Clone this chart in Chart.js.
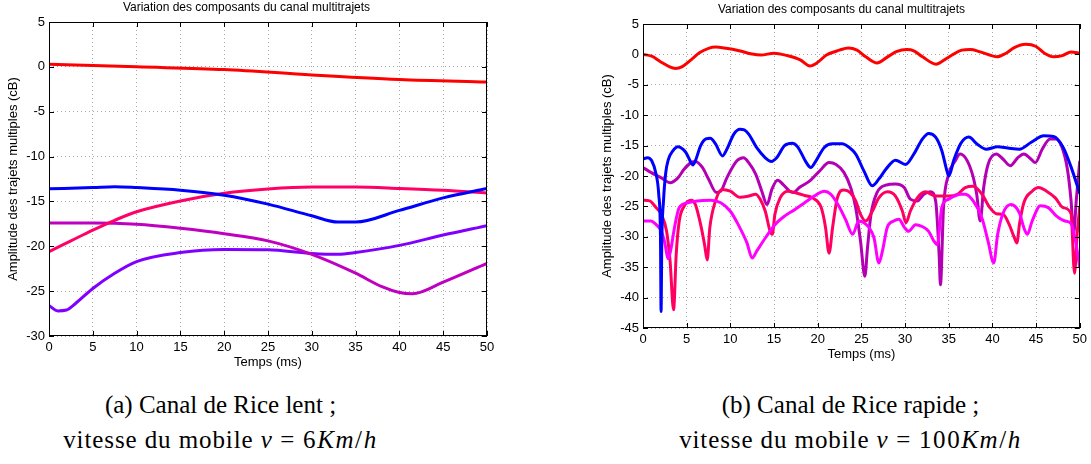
<!DOCTYPE html>
<html>
<head>
<meta charset="utf-8">
<script src="https://cdn.jsdelivr.net/npm/chart.js@4.4.1/dist/chart.umd.min.js"></script>
<style>
  body { margin: 0; background: #fff; width: 1091px; height: 464px; position: relative; overflow: hidden; }
  canvas { position: absolute; }
  #chartA { left: 0; top: 0; }
  #chartB { left: 545px; top: 2px; }
  .caption { position: absolute; width: 545px; text-align: center; font-family: "Liberation Serif", serif; font-size: 25px; line-height: 35px; color: #000; white-space: nowrap; }
  .caption .l2 { letter-spacing: 0.9px; }
  .caption .math { letter-spacing: 1.6px; }
  .caption .eq { margin: 0 7px; }
</style>
</head>
<body>
<canvas id="chartA" width="545" height="370"></canvas>
<canvas id="chartB" width="546" height="360"></canvas>
<div class="caption" style="left:-52px; top:387px;">(a) Canal de Rice lent ;<br><span class="l2">vitesse du mobile <span class="math"><i>v</i><span class="eq">=</span>6<i>Km</i>/<i>h</i></span></span></div>
<div class="caption" style="left:578px; top:387px;">(b) Canal de Rice rapide ;<br><span class="l2">vitesse du mobile <span class="math"><i>v</i><span class="eq">=</span>100<i>Km</i>/<i>h</i></span></span></div>
<script>
const chartTitle = 'Variation des composants du canal multitrajets';
const xTitle = 'Temps (ms)';
const yTitle = 'Amplitude des trajets multiples (cB)';

// (a) slow channel, 6 km/h : [time ms, amplitude dB]
const slowRed = [[0, 0.3], [10, 0.0], [20, -0.3], [30, -0.9], [40, -1.4], [50, -1.7]];
const slowBlue = [[0, -13.6], [5, -13.45], [7.5, -13.35], [10, -13.45], [15, -13.75], [20, -14.3], [25, -15.3], [30, -16.6], [33, -17.3], [35, -17.3], [40, -16.0], [45, -14.6], [50, -13.55]];
const slowPink = [[0, -20.6], [2.5, -19.4], [5, -18.2], [7.5, -17.1], [10, -16.15], [15, -14.95], [20, -14.1], [25, -13.62], [30, -13.4], [35, -13.4], [40, -13.55], [45, -13.75], [50, -14.05]];
const slowMagenta = [[0, -17.4], [5, -17.4], [10, -17.55], [15, -18.0], [20, -18.6], [25, -19.4], [30, -20.9], [35, -23.0], [38, -24.5], [40, -25.15], [41.5, -25.3], [45, -24.0], [50, -21.9]];
const slowViolet = [[0, -26.6], [1, -27.2], [2, -27.1], [3, -26.4], [5, -24.7], [7.5, -23.0], [10, -21.7], [15, -20.7], [20, -20.35], [25, -20.4], [30, -20.8], [33, -20.9], [35, -20.7], [40, -19.9], [45, -18.75], [50, -17.7]];

// (b) fast channel, 100 km/h
const fastRed = [[0, 0], [1, -0.3], [2, -1.2], [3, -2.0], [3.7, -2.3], [4.5, -2.0], [5.5, -0.9], [6.5, 0.3], [7.5, 1.0], [8.3, 1.2], [9.5, 1.0], [11, 0.6], [12.5, 0.05], [13.5, -0.1], [15, 0.2], [16.5, -0.2], [18, -0.9], [19.1, -1.9], [20, -1.3], [21, -0.1], [22.5, 0.7], [23.5, 1.05], [24.5, 0.7], [25.5, -0.4], [26.8, -1.4], [28, -0.4], [29, 0.45], [30.2, 0.8], [31, 0.6], [32, -0.4], [33.55, -1.6], [34.5, -0.9], [35.5, 0.0], [36.5, 0.7], [37.5, 0.8], [38.5, 0.45], [40, -0.25], [40.5, -0.4], [41.5, 0.15], [42.5, 1.1], [43.8, 1.65], [45, 1.3], [46, 0.15], [47, -0.4], [48, -0.2], [49, 0.4], [50, 0.2]];
const fastBlue = [[0, -17.2], [0.5, -17.0], [1, -17.5], [1.5, -19.7], [1.8, -23], [2.0, -30], [2.07, -42.3], [2.15, -31], [2.35, -24], [2.6, -19.5], [2.9, -17.3], [3.4, -15.9], [4.0, -15.2], [4.3, -15.3], [4.9, -16.1], [5.5, -17.8], [5.7, -18.2], [6.0, -17.5], [6.6, -15.0], [7.2, -13.9], [7.7, -13.8], [8.3, -14.7], [9.1, -16.7], [9.6, -15.6], [10.4, -13.1], [11.1, -12.3], [11.6, -12.4], [12.1, -13.1], [13.0, -15.3], [14.0, -17.0], [14.7, -17.6], [15.3, -17.0], [16.2, -15.0], [17.1, -14.6], [17.7, -15.2], [18.7, -17.8], [19.2, -18.6], [19.8, -17.5], [20.75, -15.3], [21.7, -14.7], [22.8, -14.7], [24.0, -15.8], [24.4, -16.5], [25.3, -19.2], [26.25, -21.6], [27.0, -20.5], [27.8, -18.9], [28.9, -17.4], [30.05, -18.1], [31.0, -16.4], [32.0, -13.9], [32.7, -13.0], [33.5, -13.6], [34.2, -15.8], [34.8, -19.2], [35.0, -20.0], [35.6, -17.3], [36.4, -14.6], [37.3, -13.6], [38.2, -14.7], [39.3, -15.6], [40.6, -15.2], [41.75, -15.4], [43.1, -15.6], [44.4, -14.5], [45.9, -13.4], [47.0, -13.5], [48.1, -15.3], [49.0, -18.5], [50, -22.9]];
const fastPurple = [[0, -18.6], [0.9, -19.4], [2.1, -20.3], [3.1, -21.1], [4.0, -20.3], [4.7, -18.9], [5.5, -17.8], [6.0, -17.6], [6.8, -18.6], [7.5, -20.5], [8.4, -22.7], [8.9, -22.5], [9.6, -20.3], [10.75, -17.5], [11.5, -17.0], [12.1, -17.8], [12.9, -19.7], [13.6, -22.5], [14.2, -24.7], [14.75, -22.2], [15.4, -20.7], [16.05, -21.4], [16.8, -22.5], [17.2, -22.7], [17.9, -21.9], [19.1, -20.8], [20.2, -19.2], [21.3, -17.8], [22.1, -18.1], [23.0, -19.4], [23.8, -22.0], [24.35, -25.2], [24.9, -30.7], [25.4, -36.5], [25.7, -31.8], [26.1, -26.3], [26.8, -22.7], [27.8, -21.5], [28.9, -21.3], [29.9, -21.9], [30.6, -23.8], [31.4, -24.1], [32.15, -23.0], [32.9, -22.6], [33.5, -24.1], [33.9, -33.0], [34.05, -37.9], [34.4, -25.2], [35.0, -19.7], [35.75, -17.5], [36.3, -16.4], [37.6, -19.2], [38.2, -23.0], [38.6, -27.4], [39.0, -21.9], [39.5, -18.1], [40.45, -16.4], [41.2, -17.2], [42.05, -18.3], [42.9, -17.0], [43.6, -16.4], [44.4, -17.2], [44.9, -17.8], [45.7, -15.6], [46.6, -13.9], [47.2, -13.9], [47.9, -15.0], [48.6, -19], [49.0, -24], [49.3, -29.5], [49.6, -24], [50, -17.5]];
const fastPink = [[0, -24.0], [0.75, -24.1], [1.5, -25.2], [2.1, -26.3], [2.7, -29.1], [3.1, -34.0], [3.5, -42.0], [3.8, -32.9], [4.15, -27.4], [4.7, -25.0], [5.5, -24.0], [6.0, -24.7], [6.6, -28.0], [7.05, -31.3], [7.35, -33.8], [7.65, -28.5], [8.3, -24.1], [9.05, -22.2], [10.0, -22.5], [11.1, -23.5], [12.1, -23.3], [12.9, -23.0], [13.4, -23.8], [14.0, -25.8], [14.55, -29.1], [14.8, -29.6], [15.1, -26.3], [15.7, -23.6], [16.6, -22.5], [17.55, -22.8], [18.5, -23.2], [19.4, -23.6], [20.4, -25.2], [20.9, -28.5], [21.3, -32.7], [21.7, -28.5], [22.25, -23.6], [23.0, -22.3], [23.7, -22.7], [24.35, -24.1], [24.9, -26.3], [25.5, -27.4], [26.25, -25.8], [27.0, -23.6], [28.0, -22.6], [28.9, -23.3], [29.7, -25.8], [30.1, -27.7], [30.6, -25.8], [31.4, -23.6], [32.3, -22.6], [33.5, -23.3], [35.0, -23.3], [36.0, -23.0], [36.9, -21.9], [37.8, -21.7], [38.8, -23.0], [39.7, -25.2], [40.45, -26.2], [41.2, -26.3], [41.9, -27.9], [42.5, -30.1], [42.8, -31.0], [43.1, -27.9], [43.6, -24.4], [44.55, -22.5], [45.3, -21.9], [46.2, -22.5], [47.2, -23.6], [48.1, -25.2], [49.0, -26.2], [49.4, -36.0], [49.7, -29.5], [50, -25.1]];
const fastMagenta = [[0, -27.4], [0.9, -27.4], [1.5, -28.0], [2.0, -28.8], [2.45, -30.7], [2.9, -33.6], [3.2, -32.0], [3.6, -28.5], [4.15, -25.2], [5.1, -24.4], [6.2, -24.1], [7.7, -24.0], [8.9, -24.4], [10.0, -25.8], [10.9, -28.0], [11.9, -31.0], [12.5, -33.5], [13.0, -32.4], [14.0, -30.2], [15.1, -28.0], [16.2, -26.6], [17.4, -25.5], [18.5, -24.4], [19.6, -23.3], [20.75, -22.5], [21.5, -23.0], [22.4, -24.9], [23.2, -27.2], [24.0, -29.6], [24.7, -27.4], [25.3, -27.7], [25.9, -28.5], [26.45, -30.2], [27.0, -34.3], [27.4, -32.4], [27.95, -28.5], [28.7, -27.4], [29.3, -27.1], [29.9, -28.4], [30.4, -29.1], [31.2, -28.0], [31.95, -28.3], [32.7, -29.1], [33.3, -30.7], [33.7, -31.3], [34.2, -25.2], [35.0, -23.8], [36.4, -23.0], [36.9, -23.0], [37.8, -24.1], [38.8, -26.9], [39.5, -30.7], [40.15, -34.3], [40.6, -29.6], [41.2, -26.2], [42.1, -24.7], [43.1, -26.1], [43.6, -28.5], [44.0, -29.6], [44.55, -27.4], [45.5, -24.9], [46.4, -25.2], [47.35, -26.6], [48.3, -27.4], [49.0, -27.8], [49.5, -30.6], [50, -35]];

const xTicks = { min: 0, max: 50, step: 5 };
const yTicksSlow = { min: -30, max: 5, step: 5 };
const yTicksFast = { min: -45, max: 5, step: 5 };

const fontFamily = '"Liberation Sans", Arial, sans-serif';
const tickFont = { family: fontFamily, size: 13 };
const axisFont = { family: fontFamily, size: 13 };
const titleFont = { family: fontFamily, size: 12, weight: 'normal' };

// box around the plot with inward tick marks, like the original figures
const framePlugin = {
    id: 'frame',
    afterDraw(chart) {
        const { ctx, chartArea: a, scales } = chart;
        ctx.save();
        ctx.strokeStyle = '#000';
        ctx.lineWidth = 1;
        ctx.setLineDash([]);
        ctx.strokeRect(Math.round(a.left) + 0.5, Math.round(a.top) + 0.5, Math.round(a.width) - 1, Math.round(a.height) - 1);
        ctx.beginPath();
        scales.x.ticks.forEach(t => {
            const px = Math.round(scales.x.getPixelForValue(t.value)) + 0.5;
            ctx.moveTo(px, a.bottom); ctx.lineTo(px, a.bottom - 5);
            ctx.moveTo(px, a.top); ctx.lineTo(px, a.top + 5);
        });
        scales.y.ticks.forEach(t => {
            const py = Math.round(scales.y.getPixelForValue(t.value)) + 0.5;
            ctx.moveTo(a.left, py); ctx.lineTo(a.left + 5, py);
            ctx.moveTo(a.right, py); ctx.lineTo(a.right - 5, py);
        });
        ctx.stroke();
        ctx.restore();
    }
};

function line(points, color) {
    return {
        data: points.map(p => ({ x: p[0], y: p[1] })),
        borderColor: color,
        borderWidth: 3,
        pointRadius: 0,
        fill: false,
        cubicInterpolationMode: 'monotone'
    };
}

function makeChart(id, datasets, yTicks, padLeft, padRight) {
    return new Chart(document.getElementById(id), {
        type: 'line',
        data: { datasets },
        plugins: [framePlugin],
        options: {
            responsive: false,
            animation: false,
            layout: { padding: { left: padLeft, right: padRight, top: 0, bottom: 0 } },
            plugins: {
                legend: { display: false },
                tooltip: { enabled: false },
                title: {
                    display: true,
                    text: chartTitle,
                    color: '#000',
                    font: titleFont,
                    padding: { top: 0, bottom: 7.6 }
                }
            },
            scales: {
                x: {
                    type: 'linear',
                    min: xTicks.min, max: xTicks.max,
                    afterFit: s => { s.height = 34; },
                    ticks: { stepSize: xTicks.step, color: '#000', font: tickFont, padding: 4, maxRotation: 0 },
                    grid: { color: '#a8a8a8', lineWidth: 1, drawTicks: false },
                    border: { display: false, dash: [1, 3] },
                    title: { display: true, text: xTitle, color: '#000', font: axisFont, padding: { top: 0, bottom: 0 } }
                },
                y: {
                    type: 'linear',
                    min: yTicks.min, max: yTicks.max,
                    afterFit: s => { s.width = 43; },
                    ticks: { stepSize: yTicks.step, color: '#000', font: tickFont, padding: 4 },
                    grid: { color: '#a8a8a8', lineWidth: 1, drawTicks: false },
                    border: { display: false, dash: [1, 3] },
                    title: { display: true, text: yTitle, color: '#000', font: axisFont, padding: { top: 0, bottom: 0 } }
                }
            }
        }
    });
}

makeChart('chartA', [
    line(slowRed, '#ff0000'),
    line(slowBlue, '#0000ff'),
    line(slowPink, '#ff0066'),
    line(slowMagenta, '#c000c0'),
    line(slowViolet, '#8000ff')
], yTicksSlow, 6, 58);

makeChart('chartB', [
    line(fastRed, '#ff0000'),
    line(fastBlue, '#0000ff'),
    line(fastMagenta, '#ff00ff'),
    line(fastPink, '#ff0060'),
    line(fastPurple, '#b400b4')
], yTicksFast, 55, 8);
</script>
</body>
</html>
